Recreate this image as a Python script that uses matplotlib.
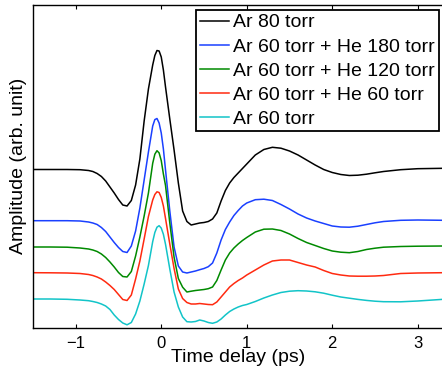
import matplotlib
matplotlib.use("Agg")
import matplotlib.pyplot as plt

plt.rcParams["font.family"] = ["Liberation Sans", "DejaVu Sans"]

# time axis (ps), shared by all traces
time_ps = [-1.5, -1.3, -1.1, -0.95, -0.85, -0.8, -0.75, -0.7, -0.65, -0.6,
           -0.55, -0.5, -0.45, -0.4, -0.35, -0.3, -0.25, -0.2, -0.15, -0.1,
           -0.075, -0.05, -0.025, 0.0, 0.025, 0.05, 0.1, 0.15, 0.2, 0.25,
           0.3, 0.35, 0.4, 0.45, 0.5, 0.55, 0.6, 0.65, 0.7, 0.75,
           0.8, 0.85, 0.9, 0.95, 1.0, 1.1, 1.2, 1.3, 1.4, 1.5,
           1.6, 1.7, 1.8, 1.9, 2.0, 2.1, 2.2, 2.3, 2.4, 2.5,
           2.6, 2.8, 3.0, 3.3]

# vertically offset traces (arb. unit)
ar80 = [157.5, 157.5, 157.5, 157.3, 156.5, 155.5, 153.5, 150.5, 146, 140,
        134, 127.5, 122, 121, 126.5, 142, 168, 206, 238, 262,
        271.5, 276.5, 276, 270, 257, 240, 208, 177, 144, 116,
        105.5, 102, 103, 104, 104.5, 105.5, 108, 114, 126, 136.5,
        144, 149.5, 154, 158.5, 163, 172, 177.5, 179.7, 178.8, 176,
        172, 167, 162, 157.5, 154.5, 152.5, 151.5, 151.8, 152.8, 154.2,
        155.5, 157.3, 158.3, 158.7]
ar60_he180 = [106.3, 106.3, 106.3, 106, 105, 104, 102.5, 99.5, 95.5, 90,
              84.5, 79.5, 75.5, 74.5, 81, 96, 119, 147, 175, 201,
              207.4, 208.5, 204, 194, 178, 157, 116, 80, 61, 55,
              54, 55, 56, 57.3, 58.5, 60.3, 64, 74, 87, 97.5,
              105, 111.5, 116.5, 121, 124, 127.3, 127.8, 126.5, 122.5, 118,
              113, 109, 106, 103.5, 101, 100, 99.8, 100.8, 102.5, 104.2,
              105.5, 106.7, 107, 106.7]
ar60_he120 = [80, 80, 79.8, 79, 78, 77, 75.5, 73, 69.5, 65,
              60, 54.5, 50.5, 50, 55.5, 71, 90, 111, 134, 163.7,
              172.8, 176.3, 174.1, 166.4, 153, 141.5, 104, 69.8, 48.5, 39.8,
              35, 35.8, 36.5, 37, 37.5, 38.3, 40, 46.5, 57, 67,
              74, 79, 83, 86.5, 89.5, 95, 97.8, 98, 96.5, 93,
              88.5, 84.5, 81.5, 78.5, 76, 74.8, 74.3, 75.5, 77.5, 78.8,
              79.8, 80.5, 80.8, 81]
ar60_he60 = [54.3, 54.2, 54, 53.5, 52.5, 51.5, 50, 48, 45, 41.5,
             37.5, 32.5, 27.5, 26.5, 32, 48, 66, 88, 110.5, 127,
             132.5, 135.2, 134.5, 129.6, 121, 108.5, 83, 58.5, 38, 28.5,
             24.5, 23, 23, 23.5, 23, 22.5, 22.3, 25, 30, 35,
             40, 43.5, 46.5, 49, 52, 57, 62, 66, 67, 67,
             64.5, 62, 60, 56.5, 53.5, 52, 51, 50.8, 50.8, 51,
             51.5, 53.5, 54, 54.3]
ar60 = [28, 28, 27.7, 27, 26.3, 25.5, 24.5, 23, 21, 17.5,
        12, 7.5, 4, 2.2, 4.5, 13, 26, 43, 61.5, 85.4,
        94.5, 99.8, 101.3, 98.9, 92.7, 82.7, 58, 35, 20, 10,
        5.3, 5, 5.5, 7, 6, 4.5, 3.7, 5, 8, 12,
        15.5, 18, 20, 21.5, 22.5, 25.5, 29, 32, 34.5, 35.8,
        36.3, 36, 35.2, 33.8, 31.8, 30, 28.8, 27.6, 26.6, 25.8,
        25.3, 25.2, 26, 27.7]

labels = ["Ar 80 torr", "Ar 60 torr + He 180 torr", "Ar 60 torr + He 120 torr",
          "Ar 60 torr + He 60 torr", "Ar 60 torr"]
colors = ["#000000", "#1a40ff", "#008a00", "#ff2a10", "#12c4c8"]
traces = [ar80, ar60_he180, ar60_he120, ar60_he60, ar60]

fig = plt.figure(figsize=(4.42, 3.75), dpi=100)
ax = fig.add_axes([33 / 442, 47.5 / 375, 410.4 / 442, 322.5 / 375])

for y, c, lab in zip(traces, colors, labels):
    ax.plot(time_ps, y, color=c, lw=1.1, label=lab)

ax.set_xlim(-1.5, 3.3)
ax.set_ylim(-0.5, 322)
ax.set_xticks([-1, 0, 1, 2, 3])
ax.set_yticks([])
ax.tick_params(axis="x", direction="in", top=True, length=3, width=0.8,
               labelsize=12, pad=6)
for s in ax.spines.values():
    s.set_linewidth(1.0)

ax.set_xlabel("Time delay (ps)", fontsize=14, labelpad=-1)
ax.set_ylabel("Amplitude (arb. unit)", fontsize=14, labelpad=4)

leg = ax.legend(loc="upper right", bbox_to_anchor=(0.989, 0.9845),
                borderaxespad=0, fontsize=14, fancybox=False,
                edgecolor="black", framealpha=1, handlelength=1.5,
                handletextpad=0.2, labelspacing=0.33, borderpad=0.2)
leg.get_frame().set_linewidth(1.3)

fig.savefig("out.png", dpi=100)
